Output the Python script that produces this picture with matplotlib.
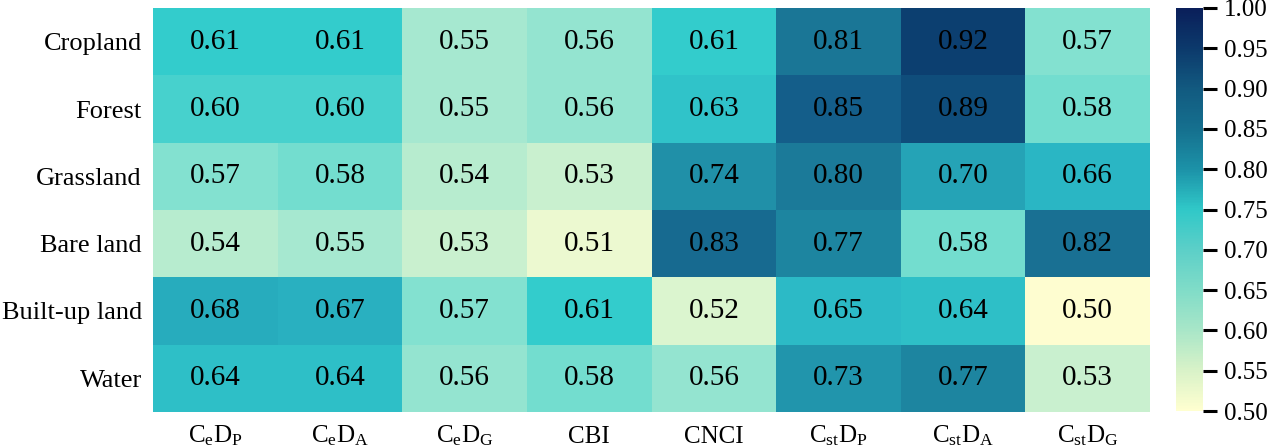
import numpy as np
import matplotlib
matplotlib.use('Agg')
import matplotlib.pyplot as plt
from matplotlib.colors import LinearSegmentedColormap, Normalize
from matplotlib.cm import ScalarMappable

# Land cover types (rows)
land_types = ['Cropland', 'Forest', 'Grassland', 'Bare land', 'Built-up land', 'Water']
# Indices (columns)
indices = [r'C$_\mathrm{e}$D$_\mathrm{P}$', r'C$_\mathrm{e}$D$_\mathrm{A}$', r'C$_\mathrm{e}$D$_\mathrm{G}$',
           'CBI', 'CNCI',
           r'C$_\mathrm{st}$D$_\mathrm{P}$', r'C$_\mathrm{st}$D$_\mathrm{A}$', r'C$_\mathrm{st}$D$_\mathrm{G}$']

cropland = [0.61, 0.61, 0.55, 0.56, 0.61, 0.81, 0.92, 0.57]
forest = [0.60, 0.60, 0.55, 0.56, 0.63, 0.85, 0.89, 0.58]
grassland = [0.57, 0.58, 0.54, 0.53, 0.74, 0.80, 0.70, 0.66]
bare_land = [0.54, 0.55, 0.53, 0.51, 0.83, 0.77, 0.58, 0.82]
built_up = [0.68, 0.67, 0.57, 0.61, 0.52, 0.65, 0.64, 0.50]
water = [0.64, 0.64, 0.56, 0.58, 0.56, 0.73, 0.77, 0.53]

cbar_ticks = [0.50, 0.55, 0.60, 0.65, 0.70, 0.75, 0.80, 0.85, 0.90, 0.95, 1.00]


def main():
	plt.rcParams['font.family'] = ['Liberation Serif', 'DejaVu Serif']
	plt.rcParams['mathtext.fontset'] = 'custom'
	plt.rcParams['mathtext.rm'] = 'Liberation Serif'
	plt.rcParams['mathtext.it'] = 'Liberation Serif:italic'

	data = np.array([cropland, forest, grassland, bare_land, built_up, water])

	vmin, vmax = 0.5, 1.0
	# Colormap for the cells
	cell_stops = [(0.50, '#fefdd0'), (0.53, '#c8f0cf'), (0.56, '#92e4d0'), (0.58, '#70dccf'),
				  (0.61, '#33cccc'), (0.66, '#2ab5c4'), (0.74, '#2090a8'), (0.81, '#1a7696'),
				  (0.85, '#145e8a'), (0.92, '#0c4070'), (1.00, '#081d58')]
	cell_cmap = LinearSegmentedColormap.from_list(
		'cells', [((v - vmin) / (vmax - vmin), c) for v, c in cell_stops])
	# Colormap shown on the colour bar
	bar_stops = [(0.50, '#ffffd0'), (0.55, '#d8f2c8'), (0.60, '#a8e6c8'), (0.65, '#80dcc8'),
				 (0.70, '#5ccfc8'), (0.75, '#30c8c8'), (0.80, '#1c92a8'), (0.85, '#15708f'),
				 (0.90, '#125a80'), (0.95, '#0c3a6c'), (1.00, '#0a1f5a')]
	bar_cmap = LinearSegmentedColormap.from_list(
		'bar', [((v - vmin) / (vmax - vmin), c) for v, c in bar_stops])

	fig = plt.figure(figsize=(12.68, 4.47), dpi=100)
	ax = fig.add_axes([153 / 1268, 1 - 412 / 447, (1150 - 153) / 1268, 404 / 447])
	norm = Normalize(vmin=vmin, vmax=vmax)
	ax.pcolormesh(data, cmap=cell_cmap, norm=norm)
	ax.set_xlim(0, data.shape[1])
	ax.set_ylim(data.shape[0], 0)

	# Annotate each cell
	for i in range(data.shape[0]):
		for j in range(data.shape[1]):
			ax.text(j + 0.5, i + 0.5, '%.2f' % data[i, j], ha='center', va='center',
					fontsize=21, color='black')

	ax.set_xticks(np.arange(data.shape[1]) + 0.5)
	ax.set_xticklabels(indices, fontsize=18)
	ax.set_yticks(np.arange(data.shape[0]) + 0.5)
	ax.set_yticklabels(land_types, fontsize=19)
	ax.tick_params(length=0, pad=8)
	# Put all x labels on a common baseline
	ax.tick_params(axis='x', pad=22)
	for lab in ax.get_xticklabels():
		lab.set_va('baseline')
	for s in ax.spines.values():
		s.set_visible(False)

	# Colour bar
	cax = fig.add_axes([1176 / 1268, 1 - 411 / 447, 27 / 1268, 403 / 447])
	sm = ScalarMappable(norm=norm, cmap=bar_cmap)
	cb = fig.colorbar(sm, cax=cax, ticks=cbar_ticks)
	cb.outline.set_visible(False)
	cb.ax.set_yticklabels(['%.2f' % t for t in cbar_ticks])
	cb.ax.tick_params(labelsize=18, length=10, width=2.2, pad=5)

	plt.savefig('out.png', dpi=100)


if __name__ == '__main__':
	main()
